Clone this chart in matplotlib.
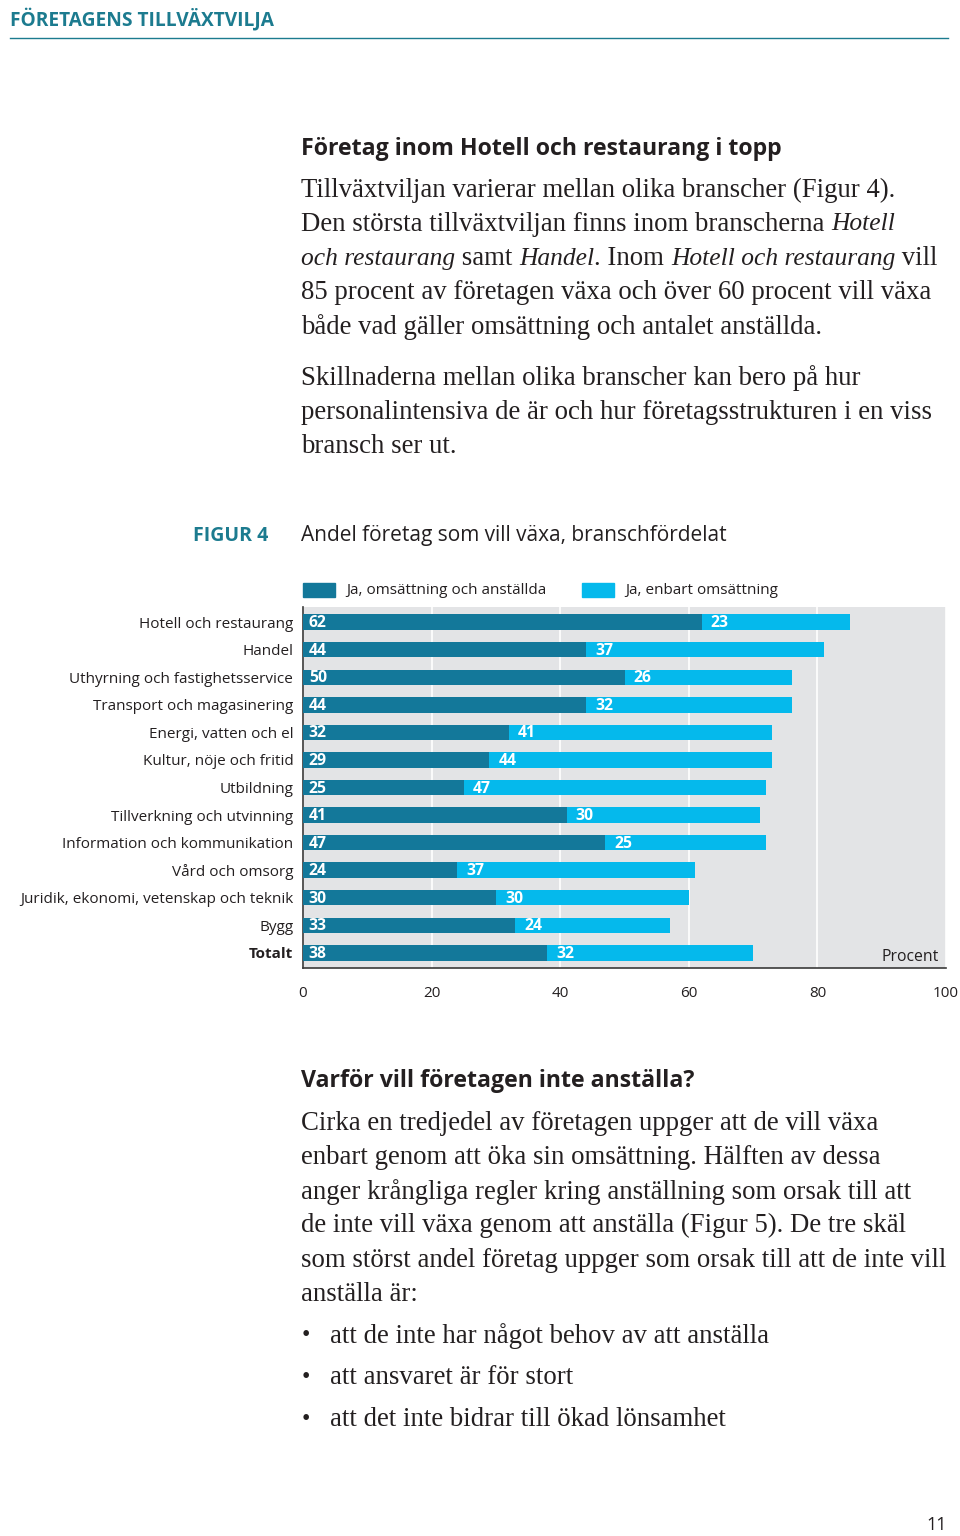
import matplotlib
matplotlib.use("Agg")
import matplotlib.pyplot as plt
from matplotlib.patches import Rectangle
from matplotlib.lines import Line2D

categories = ["Hotell och restaurang", "Handel", "Uthyrning och fastighetsservice",
              "Transport och magasinering", "Energi, vatten och el", "Kultur, nöje och fritid",
              "Utbildning", "Tillverkning och utvinning", "Information och kommunikation",
              "Vård och omsorg", "Juridik, ekonomi, vetenskap och teknik", "Bygg", "Totalt"]
oms_anst = [62, 44, 50, 44, 32, 29, 25, 41, 47, 24, 30, 33, 38]
enbart_oms = [23, 37, 26, 32, 41, 44, 47, 30, 25, 37, 30, 24, 32]
series_names = ["Ja, omsättning och anställda", "Ja, enbart omsättning"]
xticks = [0, 20, 40, 60, 80, 100]

DARK = "#13789a"
LIGHT = "#05b9ec"
TEAL = "#1c7b8f"
GRAY = "#e3e4e6"
TXT = "#231f20"
SANS = "Open Sans"
SERIF = "Liberation Serif"

W, H = 960, 1536
fig = plt.figure(figsize=(9.6, 15.36), dpi=100)
fig.patch.set_facecolor("white")

def fx(px):
    return px / W

def fy(py):
    return 1 - py / H

renderer = fig.canvas.get_renderer()

BS = 19.3
IS = 18.4

def runs(x, y, parts, family=SERIF, color=TXT):
    """parts: list of (text, style)"""
    cx = x
    for txt, style in parts:
        size = IS if style == "italic" else BS
        t = fig.text(fx(cx), fy(y), txt, fontsize=size, family=family, style=style,
                     color=color, va="center", ha="left")
        bb = t.get_window_extent(renderer=renderer)
        cx += bb.width

# header
fig.text(fx(10), fy(19), "FÖRETAGENS TILLVÄXTVILJA", fontsize=13.8, family=SANS,
         weight="bold", color=TEAL, va="center", ha="left")
fig.add_artist(Line2D([fx(10), fx(948)], [fy(38), fy(38)], color=TEAL, lw=1.0))

# section 1
fig.text(fx(301), fy(149), "Företag inom Hotell och restaurang i topp", fontsize=16.7,
         family=SANS, weight="bold", color=TXT, va="center", ha="left")
N = "normal"; I = "italic"
body1 = [
    [("Tillväxtviljan varierar mellan olika branscher (Figur 4).", N)],
    [("Den största tillväxtviljan finns inom branscherna ", N), ("Hotell", I)],
    [("och restaurang", I), (" samt ", N), ("Handel", I), (". Inom ", N),
     ("Hotell och restaurang", I), (" vill", N)],
    [("85 procent av företagen växa och över 60 procent vill växa", N)],
    [("både vad gäller omsättning och antalet anställda.", N)],
]
for k, line in enumerate(body1):
    runs(301, 190 + k * 34.3, line)
body2 = [
    "Skillnaderna mellan olika branscher kan bero på hur",
    "personalintensiva de är och hur företagsstrukturen i en viss",
    "bransch ser ut.",
]
for k, line in enumerate(body2):
    runs(301, 378 + k * 34.3, [(line, N)])

# figure title
fig.text(fx(193), fy(536), "FIGUR 4", fontsize=14, family=SANS, weight="bold",
         color=TEAL, va="center", ha="left")
fig.text(fx(301), fy(536), "Andel företag som vill växa, branschfördelat", fontsize=15,
         family=SANS, color=TXT, va="center", ha="left")

# legend
fig.add_artist(Rectangle((fx(303), fy(597)), fx(32), 14 / H, color=DARK, transform=fig.transFigure))
fig.text(fx(346), fy(591), series_names[0], fontsize=11, family=SANS, color=TXT, va="center")
fig.add_artist(Rectangle((fx(582), fy(597)), fx(32), 14 / H, color=LIGHT, transform=fig.transFigure))
fig.text(fx(625), fy(591), series_names[1], fontsize=11, family=SANS, color=TXT, va="center")

# chart
ax = fig.add_axes([fx(303), fy(968), fx(946 - 303), (968 - 607) / H])
ax.set_facecolor(GRAY)
y = list(range(len(categories)))
ax.barh(y, oms_anst, height=0.56, color=DARK, zorder=3)
ax.barh(y, enbart_oms, left=oms_anst, height=0.56, color=LIGHT, zorder=3)
for i in y:
    ax.text(0.9, i + 0.04, str(oms_anst[i]), color="white", fontsize=11.3,
            family=SANS, weight="bold", va="center", ha="left", zorder=4)
    ax.text(oms_anst[i] + 1.4, i + 0.04, str(enbart_oms[i]), color="white", fontsize=11.3,
            family=SANS, weight="bold", va="center", ha="left", zorder=4)
ax.set_xlim(0, 100)
ax.set_ylim(len(categories) - 0.45, -0.55)
ax.set_xticks(xticks)
ax.set_xticklabels([str(v) for v in xticks], family=SANS, fontsize=11, color=TXT)
ax.set_yticks(y)
ax.set_yticklabels(categories, family=SANS, fontsize=11, color=TXT)
ax.get_yticklabels()[-1].set_weight("bold")
ax.tick_params(axis="x", length=0, pad=13)
ax.tick_params(axis="y", length=0, pad=7)
ax.grid(axis="x", color="white", lw=1.2, zorder=1)
ax.set_axisbelow(True)
for s in ["top", "right"]:
    ax.spines[s].set_visible(False)
for s in ["left", "bottom"]:
    ax.spines[s].set_color("#3a3a3a")
    ax.spines[s].set_linewidth(1.2)
ax.text(98.8, 12.15, "Procent", fontsize=11.3, family=SANS, color=TXT, va="center", ha="right")

# section 2
fig.text(fx(301), fy(1081), "Varför vill företagen inte anställa?", fontsize=16.7,
         family=SANS, weight="bold", color=TXT, va="center", ha="left")
body3 = [
    "Cirka en tredjedel av företagen uppger att de vill växa",
    "enbart genom att öka sin omsättning. Hälften av dessa",
    "anger krångliga regler kring anställning som orsak till att",
    "de inte vill växa genom att anställa (Figur 5). De tre skäl",
    "som störst andel företag uppger som orsak till att de inte vill",
    "anställa är:",
]
for k, line in enumerate(body3):
    runs(301, 1123 + k * 34.3, [(line, N)])
bullets = ["att de inte har något behov av att anställa",
           "att ansvaret är för stort",
           "att det inte bidrar till ökad lönsamhet"]
for k, b in enumerate(bullets):
    yy = 1336 + k * 42
    fig.text(fx(306), fy(yy), "•", fontsize=17, family=SERIF, color=TXT, va="center", ha="center")
    runs(330, yy, [(b, N)])

fig.text(fx(947), fy(1525), "11", fontsize=13, family=SANS, color=TXT, va="center", ha="right")

fig.savefig("out.png", dpi=100)
